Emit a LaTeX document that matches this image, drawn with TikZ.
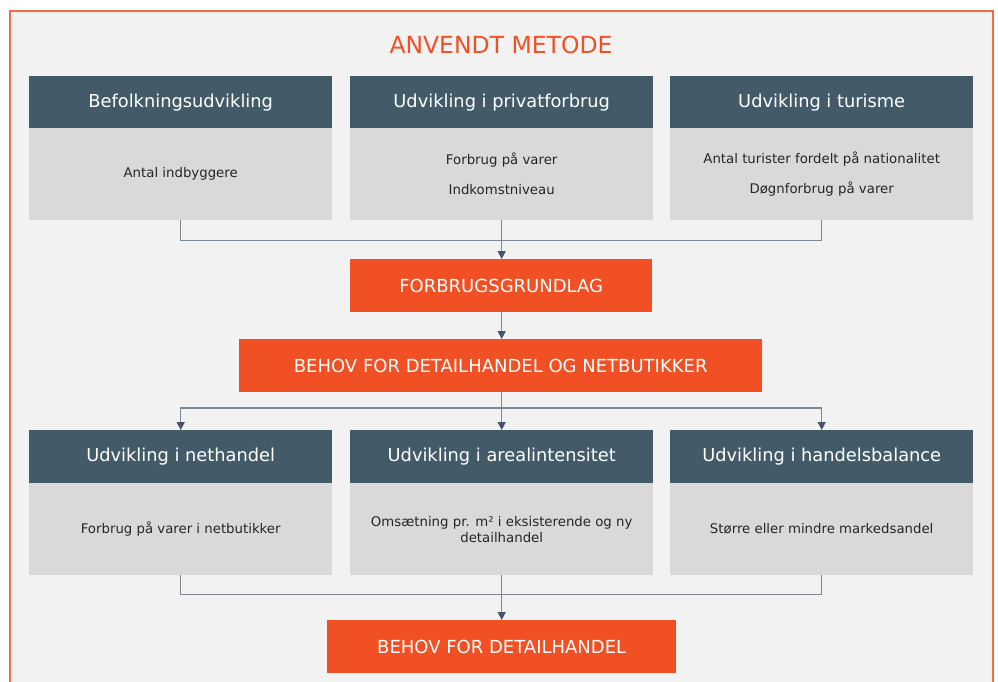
\documentclass[tikz,border=0pt]{standalone}
\usepackage{fontspec}
\setmainfont{DejaVu Sans}
\usetikzlibrary{arrows.meta}
\definecolor{frameor}{HTML}{F26B4A}
\definecolor{bg}{HTML}{F2F2F2}
\definecolor{hdr}{HTML}{435A69}
\definecolor{bodyg}{HTML}{D9D9D9}
\definecolor{orbox}{HTML}{F05023}
\definecolor{conn}{HTML}{7D8896}
\definecolor{tip}{HTML}{44546A}
\definecolor{txt}{HTML}{262626}
\tikzset{
  hdrbox/.style={anchor=north west, fill=hdr, text=white, minimum width=303pt, minimum height=53pt, inner sep=0pt, font=\fontsize{17.8}{21}\selectfont},
  bodybox/.style={anchor=north west, fill=bodyg, text=txt, minimum width=303pt, minimum height=92pt, inner sep=0pt, align=center, font=\fontsize{13.3}{16}\selectfont},
  orbx/.style={anchor=north west, fill=orbox, text=white, minimum height=53pt, inner sep=0pt, font=\fontsize{18}{21}\selectfont},
  link/.style={draw=conn, line width=1.3pt},
  arr/.style={link, -{Triangle[width=8pt,length=8pt,fill=tip,color=tip]}},
}
\begin{document}
\begin{tikzpicture}[x=1pt,y=-1pt]
\useasboundingbox (0,0) rectangle (998,682);
\fill[white] (0,0) rectangle (998,682);
\begin{scope}
\clip (0,0) rectangle (998,682);
\draw[frameor, line width=2pt, fill=bg] (9.5,11.5) rectangle (992.5,700);
\end{scope}
\node[text=orbox, font=\fontsize{23.5}{26}\selectfont] (title) at (501,45) {ANVENDT METODE};
% top row
\node[hdrbox] (h1) at (29,76) {Befolkningsudvikling};
\node[bodybox] (b1) at (29,128) {Antal indbyggere};
\node[hdrbox] (h2) at (350,76) {Udvikling i privatforbrug};
\node[bodybox] (b2) at (350,128) {Forbrug på varer\\[14pt]Indkomstniveau};
\node[hdrbox] (h3) at (670,76) {Udvikling i turisme};
\node[bodybox] (b3) at (670,128) {Antal turister fordelt på nationalitet\\[14pt]Døgnforbrug på varer};
% middle
\node[orbx, minimum width=302pt] (fg) at (350,259) {FORBRUGSGRUNDLAG};
\node[orbx, minimum width=523pt] (bn) at (239,339) {BEHOV FOR DETAILHANDEL OG NETBUTIKKER};
% bottom row
\node[hdrbox] (h4) at (29,430) {Udvikling i nethandel};
\node[bodybox] (b4) at (29,483) {Forbrug på varer i netbutikker};
\node[hdrbox] (h5) at (350,430) {Udvikling i arealintensitet};
\node[bodybox] (b5) at (350,483) {Omsætning pr. m² i eksisterende og ny\\detailhandel};
\node[hdrbox] (h6) at (670,430) {Udvikling i handelsbalance};
\node[bodybox] (b6) at (670,483) {Større eller mindre markedsandel};
\node[orbx, minimum width=349pt] (bd) at (327,620) {BEHOV FOR DETAILHANDEL};
% connectors top
\coordinate (j1) at ([yshift=-20pt]b2.south);
\draw[link] (b1.south) |- (j1);
\draw[link] (b3.south) |- (j1);
\draw[arr] (b2.south) -- (b2.south |- fg.north);
\draw[arr] (b2.south |- fg.south) -- (b2.south |- bn.north);
% fan out
\coordinate (j2) at (b2.south |- 0,408);
\draw[link] (b2.south |- bn.south) -- (j2);
\draw[arr] (j2) -| (h4.north);
\draw[arr] (j2) -| (h6.north);
\draw[arr] (j2) -- (b2.south |- h5.north);
% bottom join
\coordinate (j3) at ([yshift=-19pt]b5.south);
\draw[link] (b4.south) |- (j3);
\draw[link] (b6.south) |- (j3);
\draw[arr] (b5.south) -- (b5.south |- bd.north);
\end{tikzpicture}
\end{document}
